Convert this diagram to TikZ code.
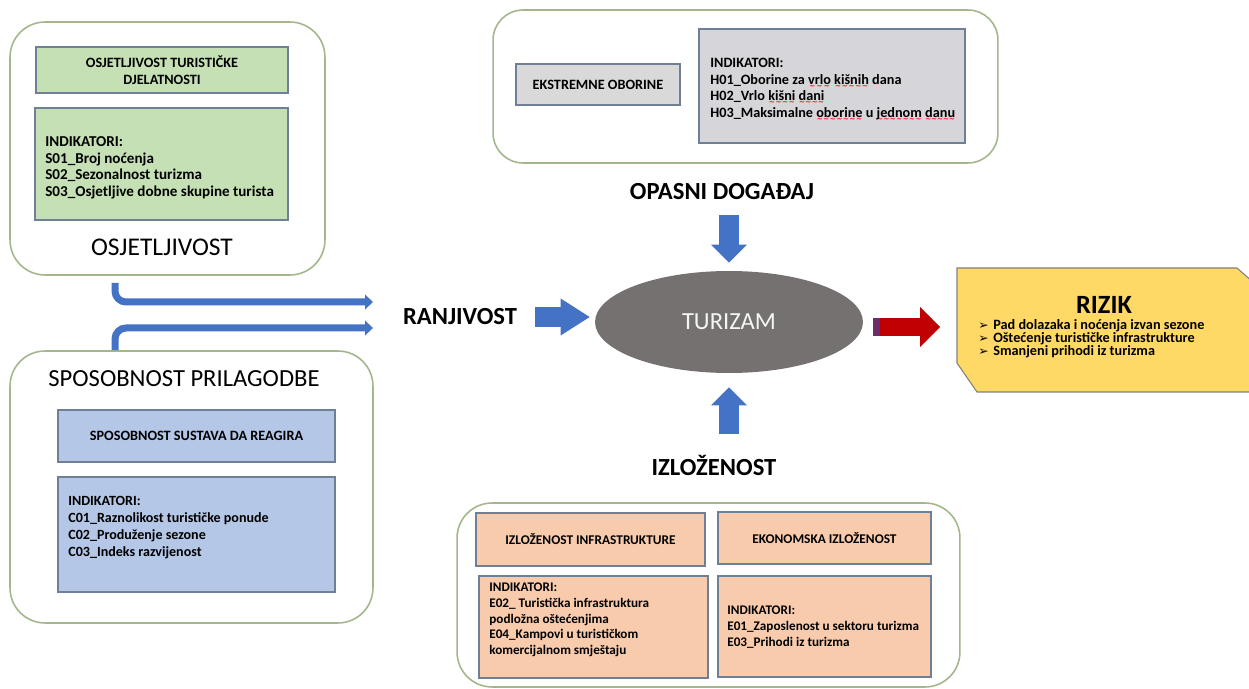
\documentclass[tikz,border=0pt]{standalone}
\usepackage{fontspec}
\setmainfont{Carlito}
\newfontfamily\symfont{DejaVu Sans}
\usetikzlibrary{arrows.meta,shapes.geometric,calc}

\definecolor{outerline}{HTML}{A3B68C}
\definecolor{innerline}{HTML}{6E7F96}
\definecolor{sensgreen}{HTML}{C5E0B4}
\definecolor{hazgray}{HTML}{D9D9D9}
\definecolor{indgray}{HTML}{D6D6DA}
\definecolor{adapblue}{HTML}{B4C7E7}
\definecolor{exppeach}{HTML}{F8CBAD}
\definecolor{riskyellow}{HTML}{FFD966}
\definecolor{arrowblue}{HTML}{4472C4}
\definecolor{arrowred}{HTML}{C00000}
\definecolor{stripedark}{HTML}{6A2E6E}
\definecolor{tourgray}{HTML}{767171}

% red wavy underline
\newcommand\spellerr[1]{\setbox0\hbox{#1}\leavevmode\rlap{\raisebox{-2.4pt}{\hbox to \wd0{\color{red}\fontsize{4}{4}\symfont\xleaders\hbox{∼}\hfil}}}\box0\relax}

\begin{document}
\begin{tikzpicture}[x=0.02cm, y=-0.02cm,
    outerbox/.style={draw=outerline, line width=0.9pt, rounded corners=0.7cm, inner sep=0},
    headbox/.style={draw=innerline, line width=0.7pt, inner sep=0, align=center, font=\bfseries\fontsize{8.1}{9.6}\selectfont},
    indbox/.style={draw=innerline, line width=0.7pt, inner sep=0},
    indtext/.style={anchor=north west, inner sep=0, align=left, font=\bfseries\fontsize{7.5}{8.9}\selectfont},
    biglabel/.style={inner sep=0, font=\fontsize{14.5}{16}\selectfont},
    boldlabel/.style={inner sep=0, font=\bfseries\fontsize{14}{16}\selectfont},
    fatarrow/.style={draw=arrowblue, line width=0.4cm, -{Triangle[length=0.58cm 0 0, width=0.74cm 0 0, line width=0pt 0 0]}},
    vertarrow/.style={draw=arrowblue, line width=0.4cm, -{Triangle[length=0.36cm 0 0, width=0.72cm 0 0, line width=0pt 0 0]}},
    redarrow/.style={draw=arrowred, line width=0.38cm, -{Triangle[length=0.4cm 0 0, width=0.8cm 0 0, line width=0pt 0 0]}},
    thinarrow/.style={draw=arrowblue, line width=0.14cm, rounded corners=0.22cm, -{Triangle[length=0.16cm 0 0, width=0.3cm 0 0, line width=0pt 0 0]}}]

\useasboundingbox (0,0) rectangle (1249,689);

% osjetljivost
\node[outerbox, minimum width=6.3cm, minimum height=5.06cm] (osjOuter) at (167.5,148.5) {};
\node[headbox, fill=sensgreen, minimum width=5.04cm, minimum height=0.92cm] (osjHead) at (162,70) {OSJETLJIVOST TURISTIČKE\\DJELATNOSTI};
\node[indbox, fill=sensgreen, minimum width=5.06cm, minimum height=2.24cm] (osjInd) at (161.5,164) {};
\node[indtext, font=\bfseries\fontsize{8.6}{9.6}\selectfont] (osjList) at (45,136) {INDIKATORI:\\S01\_Broj noćenja\\S02\_Sezonalnost turizma\\S03\_Osjetljive dobne skupine turista};
\node[biglabel] (osjLbl) at (162,247) {OSJETLJIVOST};

% opasni dogadaj
\node[outerbox, rounded corners=0.6cm, minimum width=10.1cm, minimum height=3.06cm] (hazOuter) at (745.5,86.5) {};
\node[headbox, fill=hazgray, minimum width=3.28cm, minimum height=0.82cm] (hazHead) at (598,84.5) {EKSTREMNE OBORINE};
\node[indbox, fill=indgray, minimum width=5.32cm, minimum height=2.28cm] (hazInd) at (832,86) {};
\node[indtext, font=\bfseries\fontsize{8.1}{9.4}\selectfont] (hazList) at (710,58) {INDIKATORI:\\H01\_Oborine za \spellerr{vrlo} \spellerr{kišnih} dana\\H02\_Vrlo \spellerr{kišni} \spellerr{dani}\\H03\_Maksimalne \spellerr{oborine} u \spellerr{jednom} \spellerr{danu}};
\node[boldlabel] (hazLbl) at (722,192) {OPASNI DOGAĐAJ};

% sposobnost prilagodbe
\node[outerbox, minimum width=7.26cm, minimum height=5.44cm] (adaOuter) at (191.5,487) {};
\node[biglabel, font=\fontsize{14}{16}\selectfont] (adaLbl) at (184,379) {SPOSOBNOST PRILAGODBE};
\node[headbox, fill=adapblue, minimum width=5.54cm, minimum height=1.04cm] (adaHead) at (196.5,436) {SPOSOBNOST SUSTAVA DA REAGIRA};
\node[indbox, fill=adapblue, minimum width=5.54cm, minimum height=2.3cm] (adaInd) at (196.5,534.5) {};
\node[indtext, font=\bfseries\fontsize{8}{9.6}\selectfont] (adaList) at (68,496) {INDIKATORI:\\C01\_Raznolikost turističke ponude\\C02\_Produženje sezone\\C03\_Indeks razvijenost};

% izlozenost
\node[outerbox, minimum width=10.06cm, minimum height=3.68cm] (expOuter) at (708.5,595) {};
\node[headbox, fill=exppeach, font=\bfseries\fontsize{7.6}{9}\selectfont, minimum width=4.58cm, minimum height=1.06cm] (infHead) at (590.5,539.5) {IZLOŽENOST INFRASTRUKTURE};
\node[headbox, fill=exppeach, font=\bfseries\fontsize{7.6}{9}\selectfont, minimum width=4.26cm, minimum height=1.04cm] (ecoHead) at (824.5,538) {EKONOMSKA IZLOŽENOST};
\node[indbox, fill=exppeach, minimum width=4.58cm, minimum height=2.04cm] (infInd) at (593.5,627) {};
\node[indbox, fill=exppeach, minimum width=4.26cm, minimum height=2.02cm] (ecoInd) at (824.5,626.5) {};
\node[indtext] (infList) at (489,583) {INDIKATORI:\\E02\_ Turistička infrastruktura\\podložna oštećenjima\\E04\_Kampovi u turističkom\\komercijalnom smještaju};
\node[indtext] (ecoList) at (727,606) {INDIKATORI:\\E01\_Zaposlenost u sektoru turizma\\E03\_Prihodi iz turizma};
\node[boldlabel] (expLbl) at (714,465) {IZLOŽENOST};

% centre
\node[ellipse, fill=tourgray, minimum width=5.36cm, minimum height=2.04cm, text=gray!8, font=\fontsize{14}{16}\selectfont] (tur) at (729,322) {TURIZAM};
\node[boldlabel] (vulLbl) at (460,317) {RANJIVOST};
\coordinate (vulA) at (373,302);
\coordinate (vulB) at (373,328);

% rizik
\coordinate (rizNW) at (957,268);
\filldraw[fill=riskyellow, draw=gray, line width=0.6pt] (rizNW) -- (1237,268) -- (1262,290) -- (1262,392) -- (977,392) -- (957,363) -- cycle;
\node[boldlabel, font=\bfseries\fontsize{15}{17}\selectfont] (rizLbl) at (1104,305) {RIZIK};
\node[indtext, font=\bfseries\fontsize{8.1}{7.4}\selectfont] (rizList) at (978,319) {\makebox[0.3cm][l]{\symfont\fontsize{7}{7}\selectfont ➢}Pad dolazaka i noćenja izvan sezone\\\makebox[0.3cm][l]{\symfont\fontsize{7}{7}\selectfont ➢}Oštećenje turističke infrastrukture\\\makebox[0.3cm][l]{\symfont\fontsize{7}{7}\selectfont ➢}Smanjeni prihodi iz turizma};

% arrows
\draw[thinarrow] ([xshift=-1.05cm, yshift=-0.14cm]osjOuter.south) |- (vulA);
\draw[thinarrow] ([xshift=-1.53cm]adaOuter.north) |- (vulB);
\draw[fatarrow] ($(vulLbl.east)+(18,0)$) -- ($(vulLbl.east -| tur.west)+(-5,0)$);
\draw[vertarrow] ($(hazLbl.south -| tur.north)+(0,15)$) -- ($(tur.north)+(0,-8)$);
\draw[vertarrow] ($(expLbl.north -| tur.south)+(0,-20)$) -- ($(tur.south)+(0,14)$);
\draw[redarrow] ($(tur.east)+(10,5)$) -- ($(rizNW |- tur.east)+(-17,5)$);
\draw[stripedark, line width=0.38cm] ($(tur.east)+(10,5)$) -- ++(7,0);
\end{tikzpicture}
\end{document}
